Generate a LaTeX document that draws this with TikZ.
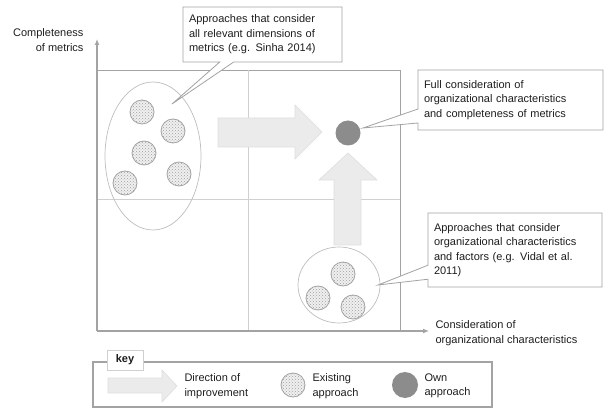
\documentclass[tikz,border=0pt]{standalone}
\usepackage{fontspec}
\setmainfont{Liberation Sans}
\usetikzlibrary{shapes.geometric,shapes.callouts,patterns,arrows.meta}
\definecolor{framegray}{HTML}{A3A3A3}
\definecolor{gridgray}{HTML}{D0D0D0}
\definecolor{setgray}{HTML}{BDBDBD}
\definecolor{arrowfill}{HTML}{EBEBEB}
\definecolor{arrowedge}{HTML}{DEDEDE}
\definecolor{owngray}{HTML}{8C8C8C}
\definecolor{textgray}{HTML}{1E1E1E}
\tikzset{
  axisline/.style={draw=framegray, line width=1.4pt, -{Latex[length=6pt,width=5pt]}},
  approachset/.style={ellipse, draw=setgray, line width=0.7pt, inner sep=0pt},
  existing/.style={circle, minimum size=24pt, inner sep=0pt, draw=framegray,
    line width=0.8pt, preaction={fill=gray!12}, pattern=crosshatch dots,
    pattern color=gray!75},
  own/.style={circle, minimum size=25pt, inner sep=0pt, fill=owngray},
  callbox/.style={rectangle callout, draw=framegray, fill=white, line width=0.8pt,
    align=left, inner xsep=6pt, callout pointer width=14pt},
  bigarrow/.style={fill=arrowfill, draw=arrowedge, line width=0.6pt},
  keytext/.style={anchor=west, align=left}
}
\begin{document}
\begin{tikzpicture}[x=1pt, y=-1pt, font=\fontsize{11}{14.5}\selectfont, text=textgray]
  \useasboundingbox (0,0) rectangle (604,411);

  % quadrants
  \draw[framegray, line width=0.8pt] (97,70) rectangle (400,331);
  \draw[gridgray, line width=0.6pt] (248,70) -- (248,331);
  \draw[gridgray, line width=0.6pt] (97,199) -- (400,199);

  % axes
  \coordinate (origin) at (97,331);
  \coordinate (ytip) at (97,39);
  \coordinate (xtip) at (429,331);
  \draw[axisline] (origin) -- (ytip);
  \draw[axisline] (origin) -- (xtip);
  \node[anchor=east, align=right] (ylabel) at (87,40) {Completeness\\of metrics};
  \node[anchor=west, align=left] (xlabel) at (432,333) {Consideration of\\organizational characteristics};

  % direction of improvement
  \draw[bigarrow] (218,118) -- (295,118) -- (295,105) -- (322,132) -- (295,159)
    -- (295,147) -- (218,147) -- cycle;
  \draw[bigarrow] (334,245) -- (334,180) -- (319,180) -- (348,153) -- (377,180)
    -- (361,180) -- (361,245) -- cycle;

  % existing approaches
  \node[approachset, minimum width=96pt, minimum height=148pt] (metricset) at (153,156) {};
  \node[existing] (m1) at (142,112) {};
  \node[existing] (m2) at (173,131) {};
  \node[existing] (m3) at (144,153) {};
  \node[existing] (m4) at (179,174) {};
  \node[existing] (m5) at (125,183) {};

  \node[approachset, minimum width=82pt, minimum height=76pt] (orgset) at (339,285) {};
  \node[existing] (o1) at (343,274) {};
  \node[existing] (o2) at (318,298) {};
  \node[existing] (o3) at (353,307) {};

  % own approach
  \node[own] (ownpt) at (348,133) {};

  % callouts
  \coordinate (metricptr) at (172,104);
  \coordinate (ownptr) at (363,128);
  \coordinate (orgptr) at (378,285);
  \node[callbox, text width=147pt, minimum height=55pt, callout absolute pointer={(metricptr)}]
    (metricnote) at (262.5,34.5) {Approaches that consider\\all relevant dimensions of\\metrics (e.g. Sinha 2014)};
  \node[callbox, text width=173pt, minimum height=60pt, callout absolute pointer={(ownptr)}]
    (ownnote) at (510.5,100) {Full consideration of\\organizational characteristics\\and completeness of metrics};
  \node[callbox, text width=162pt, minimum height=74pt, callout absolute pointer={(orgptr)}]
    (orgnote) at (515,250) {Approaches that consider\\organizational characteristics\\and factors (e.g. Vidal et al.\\2011)};

  % key
  \draw[framegray, line width=1.4pt] (93,362) rectangle (492,407);
  \node[fill=white, draw=gridgray, line width=0.5pt, minimum width=36pt, minimum height=20pt,
    font=\fontsize{11}{14.5}\selectfont\bfseries] (keytab) at (125,360) {key};
  \draw[bigarrow] (108,378) -- (162,378) -- (162,370) -- (177,386) -- (162,402)
    -- (162,393) -- (108,393) -- cycle;
  \node[keytext] (keyarrow) at (181,386) {Direction of\\improvement};
  \node[existing] (keyexist) at (293,385) {};
  \node[keytext] (keyexisttxt) at (309,386) {Existing\\approach};
  \node[own, minimum size=26pt] (keyown) at (405,385) {};
  \node[keytext] (keyowntxt) at (421,386) {Own\\approach};
\end{tikzpicture}
\end{document}
